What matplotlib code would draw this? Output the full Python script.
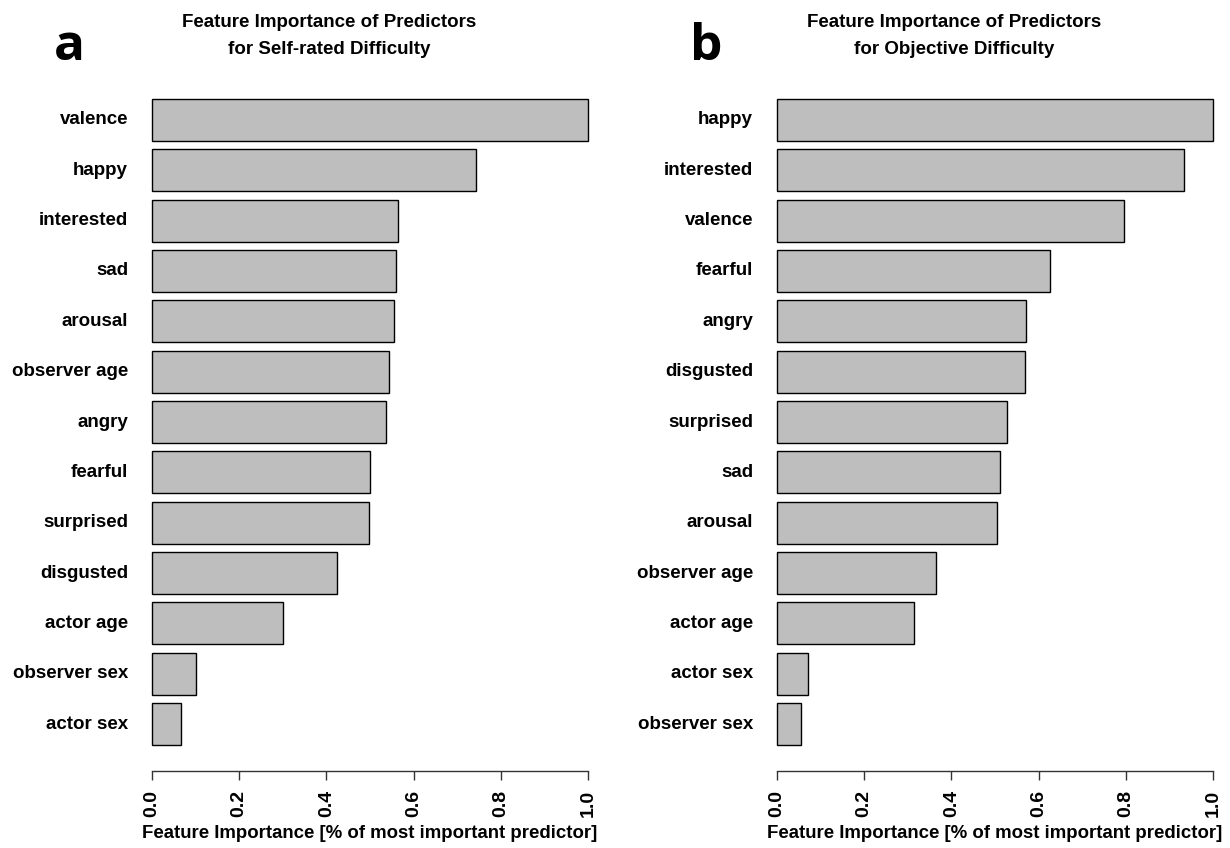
import matplotlib
matplotlib.use("Agg")
import matplotlib.pyplot as plt
import numpy as np

plt.rcParams['font.family'] = ['Liberation Sans', 'DejaVu Sans']
plt.rcParams['font.weight'] = 'bold'

# panel a: self-rated difficulty (top to bottom)
self_features = ['valence', 'happy', 'interested', 'sad', 'arousal', 'observer age',
                 'angry', 'fearful', 'surprised', 'disgusted', 'actor age',
                 'observer sex', 'actor sex']
self_importance = [1.0, 0.744, 0.565, 0.559, 0.556, 0.543, 0.537, 0.499, 0.497,
                   0.425, 0.301, 0.100, 0.067]

# panel b: objective difficulty (top to bottom)
obj_features = ['happy', 'interested', 'valence', 'fearful', 'angry', 'disgusted',
                'surprised', 'sad', 'arousal', 'observer age', 'actor age',
                'actor sex', 'observer sex']
obj_importance = [1.0, 0.934, 0.795, 0.625, 0.572, 0.568, 0.528, 0.511, 0.505,
                  0.365, 0.314, 0.071, 0.056]

titles = ['Feature Importance of Predictors\nfor Self-rated Difficulty',
          'Feature Importance of Predictors\nfor Objective Difficulty']
panel_tags = ['a', 'b']
xticks = [0.0, 0.2, 0.4, 0.6, 0.8, 1.0]
xlab = 'Feature Importance [% of most important predictor]'

W, H = 1230, 848
fig = plt.figure(figsize=(W / 100, H / 100), dpi=100)


def draw_panel(left_px, features, values, title, tag, title_cx, tag_x):
    ax = fig.add_axes([left_px / W, 1 - 771 / H, 436 / W, (771 - 73) / H])
    n = len(features)
    # R-style barplot positions: width 1, space 0.2, first bar at bottom
    pos = 0.7 + 1.2 * np.arange(n)
    ax.barh(pos, values[::-1], height=1.0, color='#BEBEBE', edgecolor='black',
            linewidth=1.0, clip_on=False)
    ax.set_ylim(-0.416, 16.216)
    ax.set_xlim(0, 1)
    for name, y in zip(features[::-1], pos):
        ax.text(-0.055, y, name, ha='right', va='center', fontsize=13.5,
                fontweight='bold', transform=ax.get_yaxis_transform())
    ax.set_yticks([])
    for s in ['top', 'right', 'left']:
        ax.spines[s].set_visible(False)
    ax.spines['bottom'].set_linewidth(1.0)
    ax.spines['bottom'].set_color('#333333')
    ax.set_xticks(xticks)
    ax.set_xticklabels(['%.1f' % t for t in xticks], rotation=90, fontsize=14,
                       fontweight='bold')
    ax.tick_params(axis='x', length=6.5, width=1.0, pad=7, color='#333333')
    ax.set_xlabel(xlab, fontsize=13.4, fontweight='bold', labelpad=6)
    fig.text(title_cx / W, 1 - 36 / H, title, ha='center', va='center',
             fontsize=13.5, fontweight='bold', linespacing=1.7)
    fig.text(tag_x / W, 1 - 47 / H, tag, ha='center', va='center',
             fontsize=37, fontweight='bold', family=['Open Sans', 'DejaVu Sans'])
    return ax


draw_panel(152, self_features, self_importance, titles[0], panel_tags[0], 329, 69)
draw_panel(777, obj_features, obj_importance, titles[1], panel_tags[1], 954, 706)

fig.savefig('out.png', dpi=100)
